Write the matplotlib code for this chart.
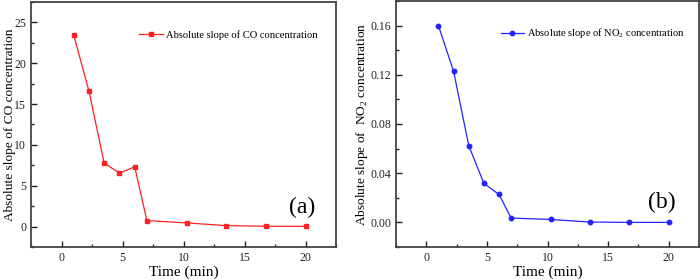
import matplotlib
matplotlib.use('Agg')
import matplotlib.pyplot as plt
from matplotlib.ticker import MultipleLocator, FormatStrFormatter

plt.rcParams['font.family']=['Liberation Serif','DejaVu Serif']
plt.rcParams['mathtext.fontset']='custom'
plt.rcParams['mathtext.rm']='Liberation Serif'

time_co=[1,2.25,3.5,4.75,6,7,10.25,13.5,16.75,20]
slope_co=[23.46,16.59,7.77,6.55,7.32,0.73,0.45,0.12,0.04,0.03]
time_no2=[1,2.25,3.5,4.75,6,7,10.25,13.5,16.75,20]
slope_no2=[0.160,0.1229,0.0625,0.0317,0.0227,0.0035,0.0024,0.0003,0.0,0.0]

fig=plt.figure(figsize=(7,2.8),dpi=100)
ax1=fig.add_axes([31/700,1-247/280,305/700,245/280])
ax2=fig.add_axes([396/700,1-247/280,303/700,246/280])

def style(ax):
    for s in ax.spines.values():
        s.set_color('#444444')
        s.set_linewidth(1.3)
    ax.tick_params(which='both',direction='in',labelsize=8.5,colors='#222222',top=False,right=False)
    ax.tick_params(which='major',length=4,width=1)
    ax.tick_params(which='minor',length=2,width=1)
    ax.xaxis.set_major_locator(MultipleLocator(5))
    ax.xaxis.set_minor_locator(MultipleLocator(2.5))
    ax.set_xlim(-2.5,22.5)
    ax.set_xlabel('Time (min)',fontsize=11,labelpad=1)

ax1.plot(time_co,slope_co,color='#ff2020',lw=0.9,marker='s',ms=3.2,label='Absolute slope of CO concentration')
style(ax1)
ax1.set_ylim(-2.5,27.5)
ax1.yaxis.set_major_locator(MultipleLocator(5))
ax1.yaxis.set_minor_locator(MultipleLocator(2.5))
ax1.set_ylabel('Absolute slope of CO concentration',fontsize=9.6)
ax1.yaxis.set_label_coords(-0.05,0.5)
ax1.legend(loc='upper right',bbox_to_anchor=(0.97,0.925),frameon=False,fontsize=7.6,handlelength=2.2,handletextpad=0.3)
ax1.text(0.89,0.163,'(a)',transform=ax1.transAxes,fontsize=17,ha='center',va='center')

ax2.plot(time_no2,slope_no2,color='#2222ff',lw=0.9,marker='o',ms=3.2,label='Absolute slope of NO$_2$ concentration')
style(ax2)
ax2.set_ylim(-0.02,0.18)
ax2.yaxis.set_major_locator(MultipleLocator(0.04))
ax2.yaxis.set_minor_locator(MultipleLocator(0.02))
ax2.yaxis.set_major_formatter(FormatStrFormatter('%.2f'))
ax2.set_ylabel('Absolute slope of  NO$_2$ concentration',fontsize=9.6)
ax2.yaxis.set_label_coords(-0.085,0.5)
ax2.legend(loc='upper right',bbox_to_anchor=(0.985,0.935),frameon=False,fontsize=7.6,handlelength=2.2,handletextpad=0.3)
ax2.text(0.878,0.183,'(b)',transform=ax2.transAxes,fontsize=17,ha='center',va='center')

fig.savefig('out.png',dpi=100)
